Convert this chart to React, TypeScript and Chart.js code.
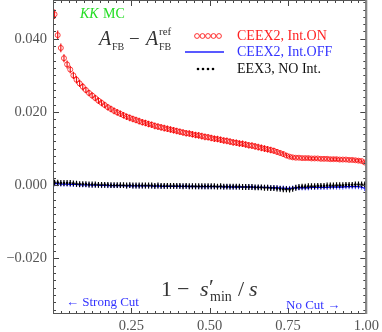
import { useEffect, useRef } from "react";
import { Chart, registerables } from "chart.js";

Chart.register(...registerables);

// ---- data ----
const xCenters = [
  0.005, 0.015, 0.025, 0.035, 0.045, 0.055, 0.065, 0.075, 0.085, 0.095,
  0.105, 0.115, 0.125, 0.135, 0.145, 0.155, 0.165, 0.175, 0.185, 0.195,
  0.205, 0.215, 0.225, 0.235, 0.245, 0.255, 0.265, 0.275, 0.285, 0.295,
  0.305, 0.315, 0.325, 0.335, 0.345, 0.355, 0.365, 0.375, 0.385, 0.395,
  0.405, 0.415, 0.425, 0.435, 0.445, 0.455, 0.465, 0.475, 0.485, 0.495,
  0.505, 0.515, 0.525, 0.535, 0.545, 0.555, 0.565, 0.575, 0.585, 0.595,
  0.605, 0.615, 0.625, 0.635, 0.645, 0.655, 0.665, 0.675, 0.685, 0.695,
  0.705, 0.715, 0.725, 0.735, 0.745, 0.755, 0.765, 0.775, 0.785, 0.795,
  0.805, 0.815, 0.825, 0.835, 0.845, 0.855, 0.865, 0.875, 0.885, 0.895,
  0.905, 0.915, 0.925, 0.935, 0.945, 0.955, 0.965, 0.975, 0.985, 0.995,
];

const ceex2IntOn = [
  0.0467, 0.0410, 0.0375, 0.0347, 0.0330, 0.0316, 0.0300, 0.0288, 0.0278, 0.0269,
  0.0260, 0.0252, 0.0245, 0.0238, 0.0231, 0.0225, 0.0219, 0.0213, 0.0208, 0.0203,
  0.0199, 0.0195, 0.0191, 0.0187, 0.0184, 0.0181, 0.0178, 0.0175, 0.0172, 0.0170,
  0.0167, 0.0165, 0.0162, 0.0160, 0.0158, 0.0156, 0.0154, 0.0152, 0.0150, 0.0148,
  0.0146, 0.0144, 0.0142, 0.0141, 0.0139, 0.0137, 0.0136, 0.0134, 0.0132, 0.0131,
  0.0129, 0.0127, 0.0126, 0.0124, 0.0122, 0.0121, 0.0119, 0.0117, 0.0116, 0.0114,
  0.0113, 0.0111, 0.0109, 0.0108, 0.0106, 0.0104, 0.0102, 0.0100, 0.0098, 0.0096,
  0.0094, 0.0091, 0.0088, 0.0085, 0.0081, 0.0078, 0.0076, 0.0075, 0.0075, 0.0074,
  0.0074, 0.0074, 0.0073, 0.0073, 0.0073, 0.0072, 0.0072, 0.0072, 0.0071, 0.0071,
  0.0071, 0.0070, 0.0070, 0.0070, 0.0069, 0.0069, 0.0068, 0.0067, 0.0066, 0.0062,
];

const ceex2IntOnErr = [
  0.0013, 0.0013, 0.0012, 0.0011, 0.0011, 0.0010, 0.0010, 0.0010, 0.0010, 0.0010,
  0.0009, 0.0009, 0.0009, 0.0009, 0.0009, 0.0009, 0.0009, 0.0009, 0.0009, 0.0009,
  0.0009, 0.0009, 0.0009, 0.0009, 0.0009, 0.0009, 0.0009, 0.0009, 0.0009, 0.0009,
  0.0009, 0.0009, 0.0009, 0.0009, 0.0009, 0.0009, 0.0009, 0.0009, 0.0009, 0.0009,
  0.0009, 0.0009, 0.0009, 0.0009, 0.0009, 0.0009, 0.0009, 0.0009, 0.0009, 0.0009,
  0.0009, 0.0009, 0.0009, 0.0009, 0.0009, 0.0009, 0.0009, 0.0009, 0.0009, 0.0009,
  0.0009, 0.0009, 0.0009, 0.0009, 0.0009, 0.0009, 0.0009, 0.0009, 0.0009, 0.0009,
  0.0008, 0.0008, 0.0007, 0.0007, 0.0006, 0.0005, 0.0005, 0.0005, 0.0005, 0.0005,
  0.0005, 0.0005, 0.0005, 0.0005, 0.0005, 0.0005, 0.0005, 0.0005, 0.0005, 0.0005,
  0.0005, 0.0005, 0.0005, 0.0005, 0.0005, 0.0005, 0.0005, 0.0005, 0.0005, 0.0005,
];

const ceex2IntOff = [
  0.0004, 0.0004, 0.0003, 0.0003, 0.0003, 0.0002, 0.0002, 0.0002, 0.0001, 0.0001,
  0.0001, 0.0001, 0.0000, 0.0000, 0.0000, -0.0001, 0.0000, -0.0001, -0.0001, -0.0001,
  -0.0001, -0.0001, -0.0001, -0.0002, -0.0001, -0.0002, -0.0002, -0.0002, -0.0002, -0.0002,
  -0.0002, -0.0002, -0.0003, -0.0002, -0.0003, -0.0003, -0.0003, -0.0003, -0.0003, -0.0003,
  -0.0003, -0.0003, -0.0003, -0.0004, -0.0003, -0.0004, -0.0004, -0.0004, -0.0004, -0.0004,
  -0.0004, -0.0004, -0.0004, -0.0004, -0.0005, -0.0004, -0.0005, -0.0005, -0.0005, -0.0005,
  -0.0005, -0.0005, -0.0005, -0.0005, -0.0006, -0.0006, -0.0006, -0.0006, -0.0006, -0.0007,
  -0.0007, -0.0007, -0.0008, -0.0008, -0.0009, -0.0009, -0.0008, -0.0007, -0.0007, -0.0007,
  -0.0007, -0.0007, -0.0006, -0.0006, -0.0006, -0.0006, -0.0006, -0.0006, -0.0005, -0.0005,
  -0.0005, -0.0005, -0.0005, -0.0004, -0.0004, -0.0004, -0.0004, -0.0004, -0.0005, -0.0009,
];

const eex3NoInt = [
  0.0007, 0.0007, 0.0006, 0.0006, 0.0006, 0.0006, 0.0005, 0.0004, 0.0003, 0.0003,
  0.0003, 0.0002, 0.0002, 0.0002, 0.0001, 0.0001, 0.0001, 0.0001, 0.0000, 0.0000,
  0.0000, 0.0000, 0.0000, -0.0001, 0.0000, -0.0001, -0.0001, -0.0001, -0.0001, -0.0001,
  -0.0001, -0.0001, -0.0002, -0.0001, -0.0002, -0.0002, -0.0002, -0.0002, -0.0002, -0.0002,
  -0.0002, -0.0003, -0.0002, -0.0003, -0.0003, -0.0003, -0.0003, -0.0003, -0.0003, -0.0003,
  -0.0003, -0.0003, -0.0004, -0.0003, -0.0004, -0.0004, -0.0004, -0.0004, -0.0004, -0.0004,
  -0.0005, -0.0005, -0.0005, -0.0005, -0.0006, -0.0006, -0.0006, -0.0007, -0.0007, -0.0008,
  -0.0008, -0.0009, -0.0010, -0.0011, -0.0011, -0.0012, -0.0010, -0.0007, -0.0005, -0.0004,
  -0.0004, -0.0003, -0.0003, -0.0003, -0.0002, -0.0002, -0.0002, -0.0001, -0.0001, -0.0001,
  0.0000, 0.0000, 0.0000, 0.0001, 0.0001, 0.0001, 0.0002, 0.0002, 0.0002, 0.0002,
];

const offErr = 0.0007;
const noIntErr = 0.0008;

const xTickValues = [0.25, 0.5, 0.75, 1.0];
const yTickValues = [-0.02, 0.0, 0.02, 0.04];

const seriesLabels = ["CEEX2, Int.ON", "CEEX2, Int.OFF", "EEX3, NO Int."];

const SERIF = "'Liberation Serif', 'DejaVu Serif', serif";

const errorBarPlugin = {
  id: "errorBars",
  beforeDatasetDraw(chart: any, args: any) {
    const ds = chart.data.datasets[args.index];
    if (!ds.errors) return;
    const yScale = chart.scales.y;
    const ctx = chart.ctx;
    const area = chart.chartArea;
    ctx.save();
    ctx.beginPath();
    ctx.rect(area.left, area.top, area.right - area.left, area.bottom - area.top);
    ctx.clip();
    ctx.strokeStyle = ds.errColor;
    ctx.lineWidth = ds.errWidth;
    ctx.beginPath();
    args.meta.data.forEach((pt: any, i: number) => {
      const v = ds.data[i].y;
      const e = ds.errors[i];
      ctx.moveTo(pt.x, yScale.getPixelForValue(v + e));
      ctx.lineTo(pt.x, yScale.getPixelForValue(v - e));
    });
    ctx.stroke();
    ctx.restore();
  },
};

const framePlugin = {
  id: "frame",
  afterDraw(chart: any) {
    const ctx = chart.ctx;
    const { left, right, top, bottom } = chart.chartArea;
    const xs = chart.scales.x;
    const ys = chart.scales.y;
    ctx.save();
    ctx.strokeStyle = "#444";
    ctx.lineWidth = 1;
    ctx.beginPath();
    for (let k = 0; k <= 40; k++) {
      const v = k * 0.025;
      const px = Math.round(xs.getPixelForValue(v)) + 0.5;
      const len = k % 10 === 0 ? 6 : 3;
      ctx.moveTo(px, bottom);
      ctx.lineTo(px, bottom - len);
      ctx.moveTo(px, top);
      ctx.lineTo(px, top + len);
    }
    for (let k = -17; k <= 25; k++) {
      const v = k * 0.002;
      const py = Math.round(ys.getPixelForValue(v)) + 0.5;
      if (py < top || py > bottom) continue;
      const len = k % 10 === 0 ? 6 : 3;
      ctx.moveTo(left, py);
      ctx.lineTo(left + len, py);
      ctx.moveTo(right, py);
      ctx.lineTo(right - len, py);
    }
    ctx.stroke();
    ctx.strokeStyle = "#555";
    ctx.strokeRect(left + 0.5, top + 0.5, right - left - 1, bottom - top - 1);
    ctx.strokeStyle = "#888";
    ctx.lineWidth = 2;
    ctx.beginPath();
    ctx.moveTo(right, top);
    ctx.lineTo(right, bottom);
    ctx.stroke();
    ctx.restore();
  },
};

const annotationPlugin = {
  id: "annotations",
  afterDraw(chart: any) {
    const ctx = chart.ctx;
    ctx.save();
    ctx.textBaseline = "alphabetic";
    ctx.textAlign = "left";

    // KK MC
    ctx.fillStyle = "#22dd22";
    ctx.font = `italic 14px ${SERIF}`;
    ctx.fillText("KK", 80, 18);
    ctx.font = `14px ${SERIF}`;
    ctx.fillText("MC", 103, 18);

    // A_FB - A_FB^ref
    ctx.fillStyle = "#333";
    ctx.font = `italic 20px ${SERIF}`;
    ctx.fillText("A", 99, 45);
    ctx.font = `10px ${SERIF}`;
    ctx.fillText("FB", 112, 50);
    ctx.font = `19px ${SERIF}`;
    ctx.fillText("\u2212", 129, 45);
    ctx.font = `italic 20px ${SERIF}`;
    ctx.fillText("A", 146, 45);
    ctx.font = `10px ${SERIF}`;
    ctx.fillText("FB", 159, 50);
    ctx.font = `11px ${SERIF}`;
    ctx.fillText("ref", 159, 35);

    // legend
    ctx.font = `14px ${SERIF}`;
    ctx.textBaseline = "middle";
    ctx.fillStyle = "#ff2222";
    ctx.fillText(seriesLabels[0], 237, 36);
    ctx.fillStyle = "#3333ff";
    ctx.fillText(seriesLabels[1], 237, 52);
    ctx.fillStyle = "#111";
    ctx.fillText(seriesLabels[2], 237, 69);

    ctx.strokeStyle = "rgba(255,0,0,0.8)";
    ctx.lineWidth = 1;
    for (let k = 0; k < 5; k++) {
      ctx.beginPath();
      ctx.arc(197 + k * 5.5, 36, 2.4, 0, Math.PI * 2);
      ctx.stroke();
    }
    ctx.strokeStyle = "#2222ff";
    ctx.lineWidth = 1.5;
    ctx.beginPath();
    ctx.moveTo(185, 52);
    ctx.lineTo(224, 52);
    ctx.stroke();
    ctx.fillStyle = "#000";
    for (let k = 0; k < 4; k++) {
      ctx.beginPath();
      ctx.arc(198 + k * 5, 69, 1.3, 0, Math.PI * 2);
      ctx.fill();
    }

    // axis title: 1 - s'_min / s
    ctx.textBaseline = "alphabetic";
    ctx.fillStyle = "#333";
    ctx.font = `22px ${SERIF}`;
    ctx.fillText("1", 161, 296);
    ctx.fillText("\u2212", 177, 296);
    ctx.font = `italic 22px ${SERIF}`;
    ctx.fillText("s", 200, 296);
    ctx.font = `22px ${SERIF}`;
    ctx.fillText("\u2032", 209, 294);
    ctx.font = `14px ${SERIF}`;
    ctx.fillText("min", 210, 301);
    ctx.font = `22px ${SERIF}`;
    ctx.fillText("/", 238, 296);
    ctx.font = `italic 22px ${SERIF}`;
    ctx.fillText("s", 249, 296);

    // cut labels
    ctx.fillStyle = "#3333ff";
    ctx.font = `13px ${SERIF}`;
    ctx.textBaseline = "middle";
    ctx.fillText("\u2190 Strong Cut", 66, 303);
    ctx.fillText("No Cut \u2192", 286, 306);
    ctx.restore();
  },
};

function toPoints(ys: number[]) {
  return ys.map((y, i) => ({ x: xCenters[i], y }));
}

export default function App() {
  const canvasRef = useRef<HTMLCanvasElement | null>(null);

  useEffect(() => {
    document.body.style.margin = "0";
    const canvas = canvasRef.current;
    if (!canvas) return;
    const chart = new Chart(canvas, {
      type: "scatter",
      data: {
        datasets: [
          {
            label: seriesLabels[0],
            data: toPoints(ceex2IntOn),
            pointStyle: "circle",
            pointRadius: 2.5,
            borderColor: "rgba(255,0,0,0.75)",
            backgroundColor: "rgba(0,0,0,0)",
            borderWidth: 1,
            order: 0,
            errors: ceex2IntOnErr,
            errColor: "rgba(230,0,0,0.9)",
            errWidth: 1.2,
          } as any,
          {
            label: seriesLabels[1],
            data: toPoints(ceex2IntOff),
            showLine: true,
            pointRadius: 0,
            borderColor: "#0000ff",
            backgroundColor: "#0000ff",
            borderWidth: 1.3,
            order: 2,
            errors: ceex2IntOff.map(() => offErr),
            errColor: "rgba(0,0,255,0.8)",
            errWidth: 1,
          } as any,
          {
            label: seriesLabels[2],
            data: toPoints(eex3NoInt),
            pointStyle: "circle",
            pointRadius: 1.3,
            borderWidth: 0,
            backgroundColor: "#000",
            borderColor: "#000",
            order: 1,
            errors: eex3NoInt.map(() => noIntErr),
            errColor: "#000",
            errWidth: 1.2,
          } as any,
        ],
      },
      options: {
        responsive: false,
        animation: false,
        events: [],
        layout: { autoPadding: false, padding: { top: 0, right: 15, left: 0, bottom: 0 } },
        plugins: {
          legend: { display: false },
          tooltip: { enabled: false },
          title: { display: false },
        },
        scales: {
          x: {
            type: "linear",
            min: 0,
            max: 1.0,
            grid: { display: false, drawTicks: false },
            border: { display: false },
            afterBuildTicks: (scale: any) => {
              scale.ticks = xTickValues.map((v) => ({ value: v }));
            },
            afterFit: (scale: any) => {
              scale.height = 18;
            },
            ticks: {
              autoSkip: false,
              maxRotation: 0,
              padding: 3,
              color: "#555",
              font: { family: SERIF, size: 14.5 },
              callback: (v: any) => Number(v).toFixed(2),
            },
          },
          y: {
            type: "linear",
            min: -0.0352,
            max: 0.0506,
            grid: { display: false, drawTicks: false },
            border: { display: false },
            afterBuildTicks: (scale: any) => {
              scale.ticks = yTickValues.map((v) => ({ value: v }));
            },
            afterFit: (scale: any) => {
              scale.width = 53;
              scale.paddingTop = 0;
              scale.paddingBottom = 0;
            },
            ticks: {
              autoSkip: false,
              padding: 6,
              color: "#555",
              font: { family: SERIF, size: 14.5 },
              callback: (v: any) => {
                const n = Number(v);
                if (Math.abs(n) < 1e-9) return "0.000";
                return n < 0 ? "\u2212" + Math.abs(n).toFixed(3) : n.toFixed(3);
              },
            },
          },
        },
      },
      plugins: [errorBarPlugin, framePlugin, annotationPlugin],
    } as any);
    return () => chart.destroy();
  }, []);

  return (
    <div style={{ width: 382, height: 332 }}>
      <canvas ref={canvasRef} width={382} height={332} />
    </div>
  );
}
